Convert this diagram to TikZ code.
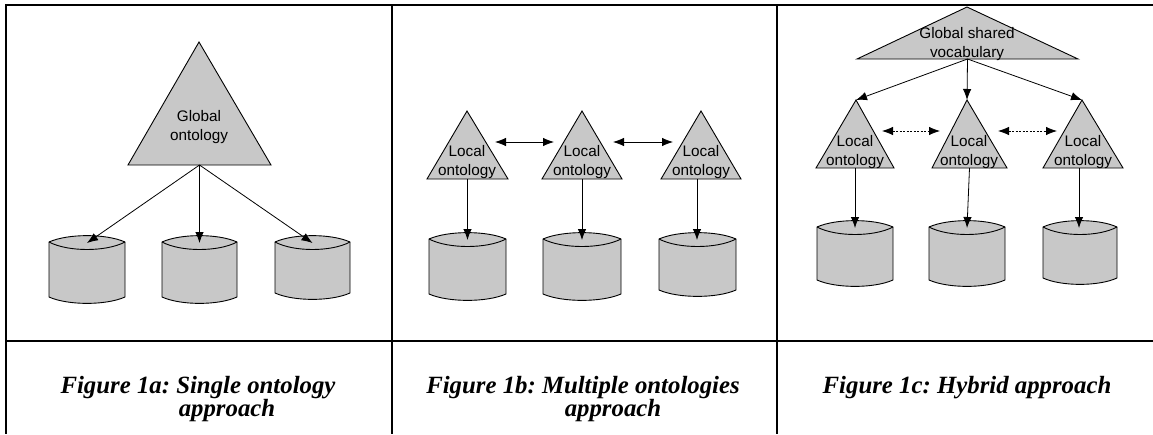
\documentclass[tikz,border=0pt]{standalone}
\usepackage{fontspec}
\setmainfont{Liberation Serif}
\newfontfamily\arialf{Liberation Sans}
\usetikzlibrary{arrows.meta}
\frenchspacing
\definecolor{shade}{RGB}{200,200,200}
\tikzset{
  gridline/.style={line width=2.8pt},
  shapeline/.style={draw=black, line width=0.9pt, fill=shade, line join=miter},
  lbl/.style={font=\arialf\fontsize{15.3}{19.5}\selectfont, align=center, inner sep=0pt},
  captext/.style={font=\bfseries\itshape\fontsize{24.8}{24}\selectfont, inner sep=0pt, anchor=base},
  arr/.style={line width=0.8pt, -{Latex[length=11pt,width=8.5pt]}},
  darr/.style={line width=0.8pt, {Latex[length=11pt,width=8.5pt]}-{Latex[length=11pt,width=8.5pt]}},
  dasharr/.style={darr, dash pattern=on 2pt off 1.5pt},
}
% triangle: name, apex x, apex y, base left x, base right x, base y
\newcommand\mytri[6]{%
  \draw[shapeline] (#2,#3) -- (#5,#6) -- (#4,#6) -- cycle;
  \coordinate (#1-apex) at (#2,#3);
  \coordinate (#1-base) at ({(#4+#5)/2},#6);
}
% drum: name, left x, right x, top y, bottom y
\newcommand\mydrum[5]{%
  \path[shapeline]
    (#2,#4) .. controls ({#2+(#3-#2)/4},{#4-8.5}) and ({#3-(#3-#2)/4},{#4-8.5}) .. (#3,#4)
    -- (#3,#5) .. controls ({#3-(#3-#2)/4},{#5+8.5}) and ({#2+(#3-#2)/4},{#5+8.5}) .. (#2,#5)
    -- cycle;
  \draw[line width=0.9pt] (#2,#4) .. controls ({#2+(#3-#2)/4},{#4+10}) and ({#3-(#3-#2)/4},{#4+10}) .. (#3,#4);
  \coordinate (#1) at ({(#2+#3)/2},{#4+1});
}
\begin{document}
\begin{tikzpicture}[x=1pt,y=-1pt]
\useasboundingbox (0,0) rectangle (1153,434);
% table grid
\coordinate (tl) at (6,5);
\coordinate (tr) at (1153,5);
\coordinate (ml) at (6,341);
\coordinate (mr) at (1153,341);
\draw[gridline] (tr) -- (tl) -- (6,434);
\draw[gridline] (392,5) -- (392,434);
\draw[gridline] (777,5) -- (777,434);
\draw[gridline] (ml) -- (mr);

% ---------- Figure 1a ----------
\mytri{ga}{199}{42}{128}{271}{165}
\node[lbl] (ga-t) at (199,127) {Global\\ontology};
\mydrum{a1}{49}{125}{242}{297}
\mydrum{a2}{162}{237}{242}{297}
\mydrum{a3}{275}{350}{242}{293}
\draw[arr] (ga-base) -- (a1);
\draw[arr] (ga-base) -- (a2);
\draw[arr] (ga-base) -- (a3);
\node[captext] (ca1) at (198,393) {Figure 1a: Single ontology};
\node[captext] (ca2) at (227,416) {approach};

% ---------- Figure 1b ----------
\mytri{lb1}{467}{111}{427}{508}{179}
\mytri{lb2}{582}{111}{542}{622}{179}
\mytri{lb3}{701}{111}{661}{741}{179}
\node[lbl] (lb1-t) at (467,162) {Local\\ontology};
\node[lbl] (lb2-t) at (582,162) {Local\\ontology};
\node[lbl] (lb3-t) at (701,162) {Local\\ontology};
\mydrum{b1}{429}{506}{239}{294}
\mydrum{b2}{543}{621}{239}{294}
\mydrum{b3}{659}{736}{239}{290}
\draw[arr] (lb1-base) -- (b1);
\draw[arr] (lb2-base) -- (b2);
\draw[arr] (697,179) coordinate (lb3-foot) -- (b3 -| lb3-foot);
\coordinate (b12a) at (495,142);
\coordinate (b12b) at (554,142);
\coordinate (b23a) at (613,142);
\coordinate (b23b) at (673,142);
\draw[darr] (b12a) -- (b12b);
\draw[darr] (b23a) -- (b23b);
\node[captext] (cb1) at (583,393) {Figure 1b: Multiple ontologies};
\node[captext] (cb2) at (613,416) {approach};

% ---------- Figure 1c ----------
\mytri{gc}{967}{7}{857}{1078}{59}
\node[lbl] (gc-t) at (967,44) {Global shared\\vocabulary};
\mytri{lc1}{856}{100}{816}{894}{168}
\mytri{lc2}{967}{100}{932}{1007}{168}
\mytri{lc3}{1082}{100}{1043}{1123}{168}
\node[lbl] (lc1-t) at (855,152) {Local\\ontology};
\node[lbl] (lc2-t) at (969,152) {Local\\ontology};
\node[lbl] (lc3-t) at (1083,152) {Local\\ontology};
\draw[arr] (gc-base) -- (lc1-apex);
\draw[arr] (gc-base) -- (lc2-apex);
\draw[arr] (gc-base) -- (lc3-apex);
\mydrum{c1}{817}{893}{227}{280}
\mydrum{c2}{929}{1005}{227}{280}
\mydrum{c3}{1043}{1117}{227}{278}
\draw[arr] (855,168) coordinate (lc1-foot) -- (c1 -| lc1-foot);
\draw[arr] (lc2-base) -- (c2);
\draw[arr] (1079,168) coordinate (lc3-foot) -- (c3 -| lc3-foot);
\coordinate (c12a) at (882,131);
\coordinate (c12b) at (940,131);
\coordinate (c23a) at (998,131);
\coordinate (c23b) at (1057,131);
\draw[dasharr] (c12a) -- (c12b);
\draw[dasharr] (c23a) -- (c23b);
\node[captext] (cc1) at (967,393) {Figure 1c: Hybrid approach};
\end{tikzpicture}
\end{document}
